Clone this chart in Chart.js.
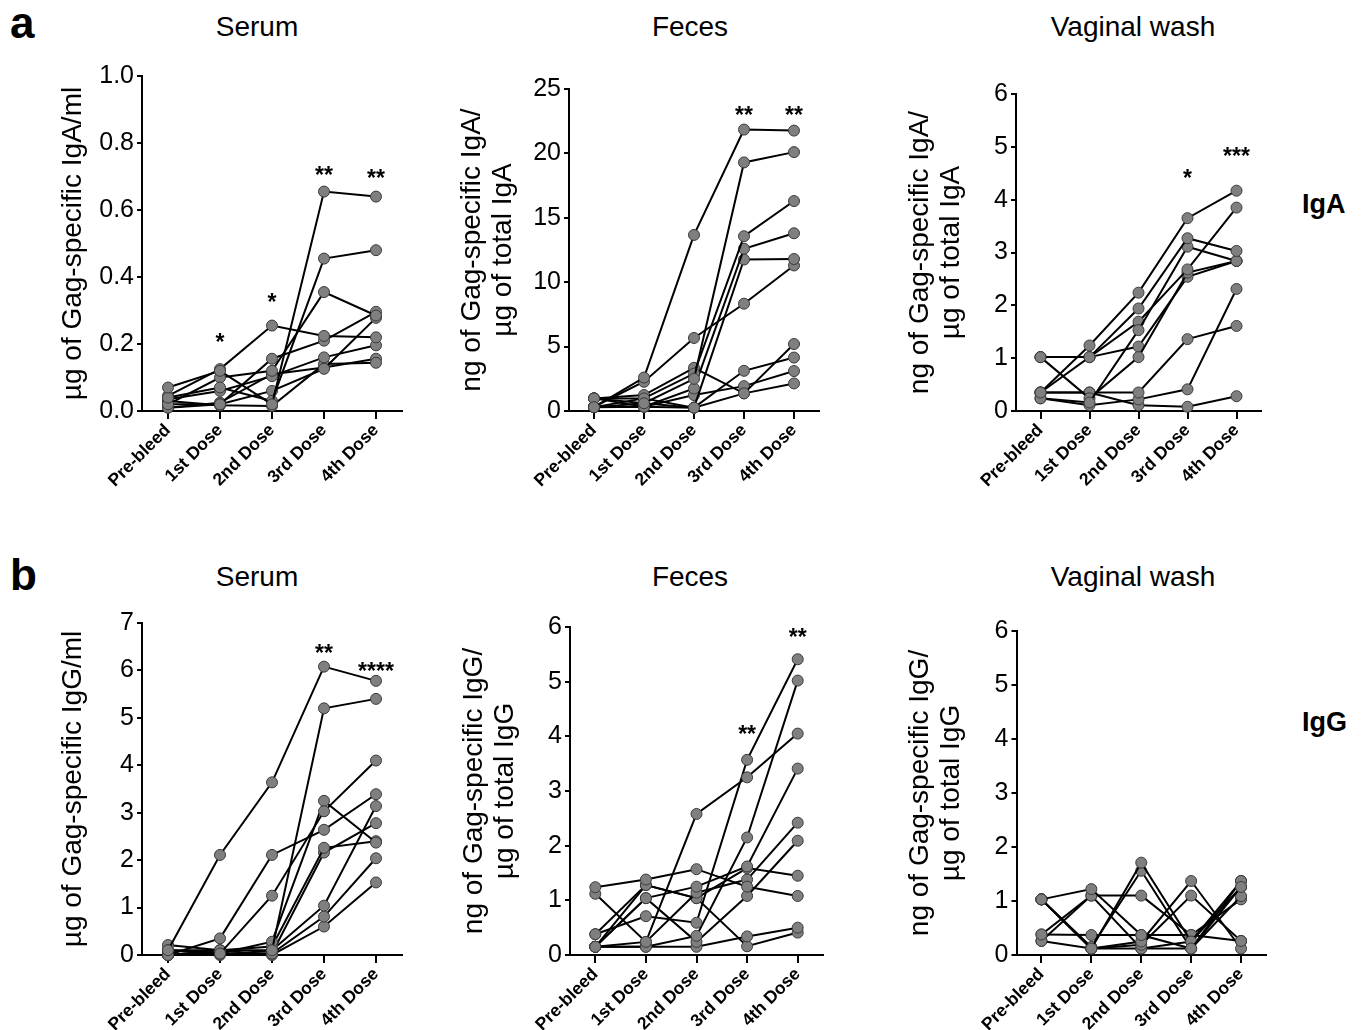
<!DOCTYPE html>
<html>
<head>
<meta charset="utf-8">
<script src="https://cdn.jsdelivr.net/npm/chart.js@4.4.1/dist/chart.umd.min.js"></script>
<style>
body { margin: 0; background: #fff; width: 1366px; height: 1030px; position: relative; overflow: hidden; font-family: "Liberation Sans", Arial, sans-serif; }
canvas { position: absolute; }
.t { position: absolute; line-height: 1; white-space: nowrap; color: #000; }
.head { font-size: 28px; transform: translateX(-50%); }
.letter { font-size: 44px; font-weight: bold; left: 10px; }
.ig { font-size: 27px; font-weight: bold; left: 1302px; }
</style>
</head>
<body>
<div class="t letter" style="top:1px">a</div>
<div class="t letter" style="top:553px">b</div>
<div class="t head" style="left:257px;top:13px">Serum</div>
<div class="t head" style="left:690px;top:13px">Feces</div>
<div class="t head" style="left:1133px;top:13px">Vaginal wash</div>
<div class="t head" style="left:257px;top:563px">Serum</div>
<div class="t head" style="left:690px;top:563px">Feces</div>
<div class="t head" style="left:1133px;top:563px">Vaginal wash</div>
<div class="t ig" style="top:191px">IgA</div>
<div class="t ig" style="top:709px">IgG</div>

<script>
const FONT = '"Liberation Sans", Arial, sans-serif';

const categories = ['Pre-bleed', '1st Dose', '2nd Dose', '3rd Dose', '4th Dose'];

// one row per animal, values at the 5 time points
const igaSerum = [
  [0.07, 0.12, 0.02, 0.655, 0.64],
  [0.04, 0.07, 0.03, 0.455, 0.48],
  [0.02, 0.10, 0.12, 0.355, 0.285],
  [0.045, 0.125, 0.255, 0.224, 0.22],
  [0.01, 0.02, 0.156, 0.21, 0.296],
  [0.035, 0.06, 0.104, 0.16, 0.196],
  [0.02, 0.02, 0.06, 0.126, 0.278],
  [0.03, 0.017, 0.015, 0.14, 0.144],
  [0.01, 0.025, 0.11, 0.13, 0.156]
];
const igaFeces = [
  [0.3, 2.6, 13.67, 21.85, 21.77],
  [0.98, 0.6, 2.5, 19.3, 20.1],
  [0.3, 0.98, 2.9, 13.57, 16.3],
  [0.98, 0.33, 1.75, 12.6, 13.8],
  [0.3, 0.33, 0.26, 11.76, 11.8],
  [0.33, 2.27, 5.67, 8.33, 11.3],
  [0.98, 1.24, 3.35, 1.37, 5.2],
  [0.3, 0.6, 0.26, 3.12, 4.15],
  [0.33, 0.33, 1.24, 1.93, 3.1],
  [0.98, 0.98, 0.26, 1.37, 2.14]
];
const igaVaginal = [
  [0.35, 1.24, 2.24, 3.65, 4.17],
  [1.02, 1.02, 1.94, 3.27, 3.03],
  [0.24, 0.16, 1.53, 3.11, 2.84],
  [0.35, 1.02, 1.69, 2.68, 3.85],
  [1.02, 0.24, 1.02, 2.62, 2.84],
  [1.02, 1.02, 1.22, 2.54, 2.84],
  [0.35, 0.35, 0.35, 1.36, 1.61],
  [0.24, 0.11, 0.22, 0.41, 2.31],
  [0.35, 0.35, 0.11, 0.08, 0.28]
];
const iggSerum = [
  [0.1, 2.11, 3.64, 6.08, 5.78],
  [0.0, 0.35, 2.11, 2.64, 3.39],
  [0.1, 0.03, 1.25, 3.03, 4.1],
  [0.21, 0.1, 0.1, 5.2, 5.4],
  [0.0, 0.03, 0.28, 3.25, 2.37],
  [0.1, 0.1, 0.18, 2.26, 2.4],
  [0.0, 0.03, 0.03, 2.16, 2.78],
  [0.0, 0.0, 0.1, 1.04, 3.14],
  [0.1, 0.03, 0.03, 0.81, 2.04],
  [0.0, 0.1, 0.0, 0.6, 1.53]
];
const iggFeces = [
  [0.15, 0.24, 2.58, 3.25, 4.05],
  [0.38, 0.71, 0.59, 3.57, 5.41],
  [0.15, 0.15, 0.35, 2.15, 5.02],
  [0.15, 1.04, 1.25, 1.62, 3.41],
  [1.24, 1.38, 1.57, 1.25, 1.08],
  [1.12, 0.24, 1.14, 1.38, 2.42],
  [0.38, 1.28, 1.04, 1.59, 1.45],
  [0.15, 1.04, 0.24, 1.08, 2.09],
  [0.15, 0.15, 0.15, 0.34, 0.5],
  [0.15, 1.28, 1.04, 0.16, 0.41]
];
const iggVaginal = [
  [1.03, 1.22, 0.37, 0.12, 1.26],
  [1.03, 0.12, 1.71, 0.25, 1.37],
  [1.03, 0.15, 1.56, 0.12, 1.09],
  [0.38, 1.1, 1.1, 0.37, 0.26],
  [0.26, 0.12, 0.25, 1.37, 0.12],
  [1.03, 0.12, 0.19, 1.1, 0.26],
  [0.38, 0.37, 0.37, 0.37, 1.03],
  [0.26, 1.1, 0.12, 0.25, 1.26],
  [1.03, 0.12, 0.12, 0.12, 1.37]
];

// significance marks and the value level they sit at
const starsIgaSerum = ['', '*', '*', '**', '**'];
const starYIgaSerum = [null, 0.223, 0.342, 0.72, 0.712];
const starsIgaFeces = ['', '', '', '**', '**'];
const starYIgaFeces = [null, null, null, 23.4, 23.4];
const starsIgaVaginal = ['', '', '', '*', '***'];
const starYIgaVaginal = [null, null, null, 4.51, 4.92];
const starsIggSerum = ['', '', '', '**', '****'];
const starYIggSerum = [null, null, null, 6.49, 6.11];
const starsIggFeces = ['', '', '', '**', '**'];
const starYIggFeces = [null, null, null, 4.15, 5.91];

const starPlugin = {
  id: 'stars',
  afterDatasetsDraw(chart, args, opts) {
    if (!opts.labels) return;
    const ctx = chart.ctx;
    const xs = chart.scales.x, ys = chart.scales.y;
    ctx.save();
    ctx.fillStyle = '#000';
    ctx.font = 'bold 23px ' + FONT;
    ctx.textAlign = 'center';
    ctx.textBaseline = 'alphabetic';
    opts.labels.forEach((s, i) => {
      if (!s) return;
      ctx.fillText(s, xs.getPixelForValue(i), ys.getPixelForValue(opts.y[i]) + 13.4);
    });
    ctx.restore();
  }
};

function drawPanel(p) {
  const padTop = 20, padRight = 12, xH = 95;
  const yW = p.left - p.canvasLeft;
  const cv = document.createElement('canvas');
  cv.width = yW + (p.right - p.left) + padRight;
  cv.height = padTop + (p.bottom - p.top) + xH;
  cv.style.left = p.canvasLeft + 'px';
  cv.style.top = (p.top - padTop) + 'px';
  document.body.appendChild(cv);

  const titleSize = 28, titleLH = 1.1;
  const titlePad = p.titleX - p.canvasLeft - titleSize * titleLH / 2;
  const tickGrid = len => ({ display: true, drawOnChartArea: false, drawTicks: true, tickLength: len, color: '#000', lineWidth: 2 });

  new Chart(cv, {
    type: 'line',
    data: {
      labels: categories,
      datasets: p.series.map(s => ({
        data: s,
        borderColor: '#000',
        borderWidth: 2,
        pointRadius: 5.5,
        pointBackgroundColor: '#7f7f7f',
        pointBorderColor: '#3a3a3a',
        pointBorderWidth: 1,
        tension: 0,
        fill: false,
        clip: false
      }))
    },
    options: {
      responsive: false,
      animation: false,
      devicePixelRatio: 1,
      events: [],
      layout: { padding: { top: padTop, right: padRight, left: 0, bottom: 0 } },
      plugins: {
        legend: { display: false },
        tooltip: { enabled: false },
        stars: { labels: p.stars, y: p.starY }
      },
      scales: {
        x: {
          offset: true,
          grid: tickGrid(8),
          border: { display: true, color: '#000', width: 2 },
          ticks: { autoSkip: false, maxRotation: 45, minRotation: 45, padding: 1, color: '#000',
                   font: { family: FONT, size: 17.5, weight: 'bold' } },
          afterFit: s => { s.height = xH; }
        },
        y: {
          min: 0,
          max: p.yMax,
          grid: tickGrid(5),
          border: { display: true, color: '#000', width: 2 },
          ticks: { stepSize: p.yStep, padding: 3, color: '#000', font: { family: FONT, size: 25 },
                   callback: v => p.decimals ? v.toFixed(1) : String(Math.round(v)) },
          title: { display: true, text: p.yTitle, color: '#000',
                   font: { family: FONT, size: titleSize, lineHeight: titleLH },
                   padding: { top: titlePad, bottom: 0 } },
          afterFit: s => { s.width = yW; }
        }
      }
    },
    plugins: [starPlugin]
  });
}

drawPanel({ series: igaSerum, canvasLeft: 42, left: 142, right: 402, top: 76, bottom: 411.5,
  yMax: 1, yStep: 0.2, decimals: true, yTitle: 'µg of Gag-specific IgA/ml', titleX: 73,
  stars: starsIgaSerum, starY: starYIgaSerum });
drawPanel({ series: igaFeces, canvasLeft: 440, left: 569, right: 819, top: 89, bottom: 411,
  yMax: 25, yStep: 5, yTitle: ['ng of Gag-specific IgA/', 'µg of total IgA'], titleX: 472,
  stars: starsIgaFeces, starY: starYIgaFeces });
drawPanel({ series: igaVaginal, canvasLeft: 890, left: 1016, right: 1261.5, top: 94, bottom: 411,
  yMax: 6, yStep: 1, yTitle: ['ng of Gag-specific IgA/', 'µg of total IgA'], titleX: 920,
  stars: starsIgaVaginal, starY: starYIgaVaginal });
drawPanel({ series: iggSerum, canvasLeft: 42, left: 142, right: 402, top: 623, bottom: 955,
  yMax: 7, yStep: 1, yTitle: 'µg of Gag-specific IgG/ml', titleX: 73,
  stars: starsIggSerum, starY: starYIggSerum });
drawPanel({ series: iggFeces, canvasLeft: 440, left: 570, right: 823, top: 627, bottom: 955,
  yMax: 6, yStep: 1, yTitle: ['ng of Gag-specific IgG/', 'µg of total IgG'], titleX: 474,
  stars: starsIggFeces, starY: starYIggFeces });
drawPanel({ series: iggVaginal, canvasLeft: 890, left: 1016.5, right: 1266.5, top: 631, bottom: 955,
  yMax: 6, yStep: 1, yTitle: ['ng of Gag-specific IgG/', 'µg of total IgG'], titleX: 920,
  stars: [], starY: [] });
</script>
</body>
</html>
